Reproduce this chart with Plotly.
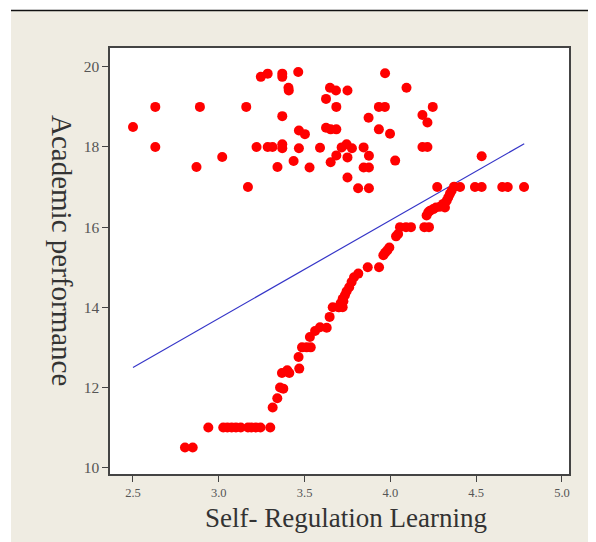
import plotly.graph_objects as go

# Upper cluster (Self-Regulation Learning, Academic performance)
upper_x = [2.50, 2.63, 2.63, 2.87, 2.89, 3.02, 3.16, 3.17, 3.22, 3.245, 3.285, 3.285,
           3.313, 3.342, 3.37, 3.37, 3.37, 3.37, 3.37, 3.406, 3.408, 3.436, 3.463, 3.467,
           3.502, 3.467, 3.529, 3.59, 3.625, 3.648, 3.683, 3.750, 3.625, 3.652, 3.685,
           3.685, 3.652, 3.685, 3.716, 3.745, 3.776, 3.750, 3.750, 3.812, 3.875, 3.844,
           3.873, 3.875, 3.844, 3.875, 3.933, 3.968, 3.969, 3.933, 3.998, 4.028, 4.094,
           4.187, 4.216, 4.247, 4.187, 4.216, 4.532, 4.273, 4.406, 4.493, 4.532, 4.652,
           4.684, 4.779]
upper_y = [18.5, 19.0, 18.0, 17.5, 19.0, 17.75, 19.0, 17.0, 18.0, 19.75, 19.83, 18.0,
           18.0, 17.5, 19.83, 19.75, 18.77, 18.07, 17.97, 19.48, 19.41, 17.65, 19.87, 18.41,
           18.32, 17.97, 17.49, 17.98, 19.2, 19.48, 19.41, 19.41, 18.48, 18.44, 18.44,
           19.0, 17.62, 17.79, 17.99, 18.07, 17.97, 17.74, 17.24, 16.97, 16.97, 17.99,
           18.73, 17.78, 17.49, 17.49, 19.0, 19.0, 19.84, 18.44, 18.33, 17.66, 19.48,
           18.8, 18.61, 19.0, 18.0, 18.0, 17.77, 17.0, 17.0, 17.0, 17.0, 17.0,
           17.0, 17.0]

# Lower (rising) group
lower_x = [2.803, 2.848, 2.939, 3.026, 3.05, 3.075, 3.10, 3.128, 3.17, 3.19, 3.216, 3.243,
           3.30, 3.314, 3.341, 3.357, 3.376, 3.368, 3.399, 3.411, 3.469, 3.465, 3.485,
           3.512, 3.536, 3.531, 3.561, 3.59, 3.629, 3.646, 3.664, 3.697, 3.722, 3.702,
           3.71, 3.726, 3.722, 3.735, 3.745, 3.76, 3.774, 3.788, 3.813, 3.868, 3.934,
           3.959, 3.969, 3.982, 3.994, 4.033, 4.045, 4.056, 4.091, 4.12, 4.198, 4.225,
           4.211, 4.221, 4.231, 4.25, 4.266, 4.289, 4.308, 4.318, 4.328, 4.337, 4.347,
           4.357, 4.371]
lower_y = [10.5, 10.5, 11.0, 11.0, 11.0, 11.0, 11.0, 11.0, 11.0, 11.0, 11.0, 11.0,
           11.0, 11.5, 11.73, 12.0, 11.97, 12.36, 12.43, 12.36, 12.47, 12.76, 13.0,
           13.0, 13.0, 13.26, 13.41, 13.5, 13.49, 13.76, 14.0, 14.0, 14.0, 14.0,
           14.1, 14.15, 14.21, 14.3, 14.4, 14.5, 14.63, 14.75, 14.84, 15.0, 15.0,
           15.3, 15.36, 15.42, 15.49, 15.77, 15.83, 16.0, 16.0, 16.0, 16.0, 16.0,
           16.29, 16.37, 16.41, 16.45, 16.49, 16.51, 16.58, 16.49, 16.66, 16.74, 16.83,
           16.91, 17.01]

# Fitted line end points
fit_x = [2.5, 4.78]
fit_y = [12.5, 18.08]

x_ticks = [2.5, 3.0, 3.5, 4.0, 4.5, 5.0]
x_tick_labels = ["2.5", "3.0", "3.5", "4.0", "4.5", "5.0"]
y_ticks = [10, 12, 14, 16, 18, 20]
y_tick_labels = ["10", "12", "14", "16", "18", "20"]

W, H = 596, 542
OFF = 8  # page body margin
# plot area in page pixels: x 110..569, y 48..474
L, T = 110 - OFF, 48 - OFF
R, B = W - (569 - OFF), H - (474 - OFF)
pw, ph = W - L - R, H - T - B

def px(x):  # page pixel -> paper x
    return (x - OFF - L) / pw

def py(y):  # page pixel -> paper y
    return (H - B - (y - OFF)) / ph

SERIF = "Liberation Serif, Times New Roman, serif"
CREAM = "#EFECE2"

fig = go.Figure()
fig.add_trace(go.Scatter(x=fit_x, y=fit_y, mode="lines",
                         line=dict(color="#3535C8", width=1.2), hoverinfo="skip"))
fig.add_trace(go.Scatter(x=upper_x + lower_x, y=upper_y + lower_y, mode="markers",
                         marker=dict(color="#FF0000", size=10, line=dict(width=0))))

fig.update_layout(
    width=W, height=H, showlegend=False,
    margin=dict(l=L, r=R, t=T, b=B, pad=0),
    paper_bgcolor=CREAM, plot_bgcolor="white",
    xaxis=dict(range=[2.366, 5.041], tickvals=x_ticks, ticktext=x_tick_labels,
               showgrid=False, zeroline=False, showline=True, mirror=True,
               linecolor="#444444", linewidth=1.5, ticks="outside", ticklen=6,
               tickcolor="#444444", tickwidth=1,
               tickfont=dict(family=SERIF, size=12.5, color="#555555")),
    yaxis=dict(range=[9.84, 20.47], tickvals=y_ticks, ticktext=y_tick_labels,
               showgrid=False, zeroline=False, showline=True, mirror=True,
               linecolor="#444444", linewidth=1.5, ticks="outside", ticklen=6,
               tickcolor="#444444", tickwidth=1,
               tickfont=dict(family=SERIF, size=15.5, color="#555555")),
    shapes=[
        dict(type="rect", xref="paper", yref="paper", x0=px(0), x1=px(11), y0=py(H + 20), y1=py(0),
             fillcolor="white", line=dict(width=0)),
        dict(type="rect", xref="paper", yref="paper", x0=px(0), x1=px(W + 20), y0=py(10), y1=py(0),
             fillcolor="white", line=dict(width=0)),
        dict(type="line", xref="paper", yref="paper", x0=px(11), x1=px(W + 20), y0=py(10.5), y1=py(10.5),
             line=dict(color="#111111", width=1.5)),
    ],
    annotations=[
        dict(text="Academic performance", xref="paper", yref="paper", x=px(62), y=py(250),
             textangle=90, showarrow=False, xanchor="center", yanchor="middle",
             font=dict(family=SERIF, size=29, color="#333333")),
        dict(text="Self- Regulation Learning", xref="paper", yref="paper", x=px(346), y=py(518),
             showarrow=False, xanchor="center", yanchor="middle",
             font=dict(family=SERIF, size=27, color="#333333")),
    ],
)

fig.write_html("out.html")
